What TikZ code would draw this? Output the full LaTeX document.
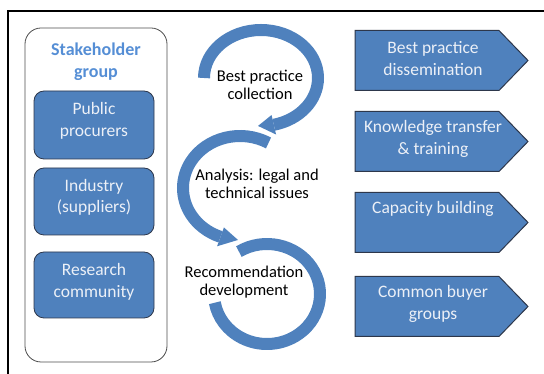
\documentclass[tikz,border=0pt]{standalone}
\usepackage{fontspec}
\setmainfont{Carlito}
\usetikzlibrary{calc}
\definecolor{officeblue}{RGB}{79,129,189}
\definecolor{titleblue}{RGB}{85,142,213}
\definecolor{boxline}{RGB}{45,55,75}
\definecolor{paletext}{RGB}{236,240,247}
\def\ringarc[#1](#2)(#3:#4:#5:#6)
{ \draw[#1] ($(#2)+({#5*cos(#3)},{#6*sin(#3)})$) arc[start angle=#3,end angle=#4,x radius=#5,y radius=#6]; }
\def\ringhead[#1](#2)(#3:#4:#5:#6)
{ \fill[#1] ($(#2)+({(#5+10)*cos(#3)},{(#6+10)*sin(#3)})$) -- ($(#2)+({#5*cos(#4)},{#6*sin(#4)})$) -- ($(#2)+({(#5-10)*cos(#3)},{(#6-10)*sin(#3)})$) -- cycle; }
\newcommand{\tagshape}[1]{\draw[tagbox] (355,#1+30) -- (499,#1+30) -- (528,#1) -- (499,#1-30) -- (355,#1-30) -- cycle;}
\tikzset{
  ring/.style={line width=12,officeblue},
  stakebox/.style={draw=boxline,fill=officeblue,rounded corners=10,minimum width=120,line width=0.8},
  tagbox/.style={draw=boxline,fill=officeblue,line width=1},
  boxtext/.style={align=center,text=paletext,font=\fontsize{17.5}{21.5}\selectfont},
  ringtext/.style={align=center,font=\fontsize{16.5}{18}\selectfont},
}
\begin{document}
\begin{tikzpicture}[x=1pt,y=1pt]
	\useasboundingbox (0,0) rectangle (544,374);
	%FRAME
	\draw[line width=2] (8,-2) -- (8,363) -- (546,363);
	
	%STAKEHOLDERS
	\node[draw=black!70,rounded corners=16,minimum width=142,minimum height=334,line width=0.8] (stake) at (96,179) {};
	\node[align=center,text=titleblue,font=\bfseries\fontsize{18}{22}\selectfont] (title) at (96,312) {Stakeholder\\group};
	\node[stakebox,minimum height=68] (pub) at (94,249) {};
	\node[stakebox,minimum height=67] (ind) at (94,172.5) {};
	\node[stakebox,minimum height=66] (res) at (94,89) {};
	\node[boxtext] (pubtext) at (94,253) {Public\\procurers};
	\node[boxtext] (indtext) at (94,176.5) {Industry\\(suppliers)};
	\node[boxtext] (restext) at (94,92) {Research\\community};
	
	%ARCS
	\coordinate (c1) at (261,296);
	\coordinate (c2) at (240,186);
	\coordinate (c3) at (267,80);
	\ringarc[ring](c1)(180:-77:57:48)
	\ringhead[officeblue](c1)(-77:-93:57:48)
	\ringarc[ring](c2)(60:250:57:52)
	\ringhead[officeblue](c2)(250:268:57:52)
	\ringarc[ring](c3)(122:-170:53:50)
	\node[ringtext] (collect) at (260,289.5) {Best practice\\collection};
	\node[ringtext] (analysis) at (257,190.5) {Analysis: legal and\\technical issues};
	\node[ringtext] (recomm) at (244,92) {Recommendation\\development};
	
	%OUTCOMES
	\tagshape{313.5}
	\tagshape{232.5}
	\tagshape{151.5}
	\tagshape{67.5}
	\node[boxtext] (diss) at (433,315.5) {Best practice\\dissemination};
	\node[boxtext] (know) at (433,235) {Knowledge transfer\\\& training};
	\node[boxtext] (cap) at (433,165) {Capacity building};
	\node[boxtext] (buyer) at (433,70) {Common buyer\\groups};
\end{tikzpicture}
\end{document}
